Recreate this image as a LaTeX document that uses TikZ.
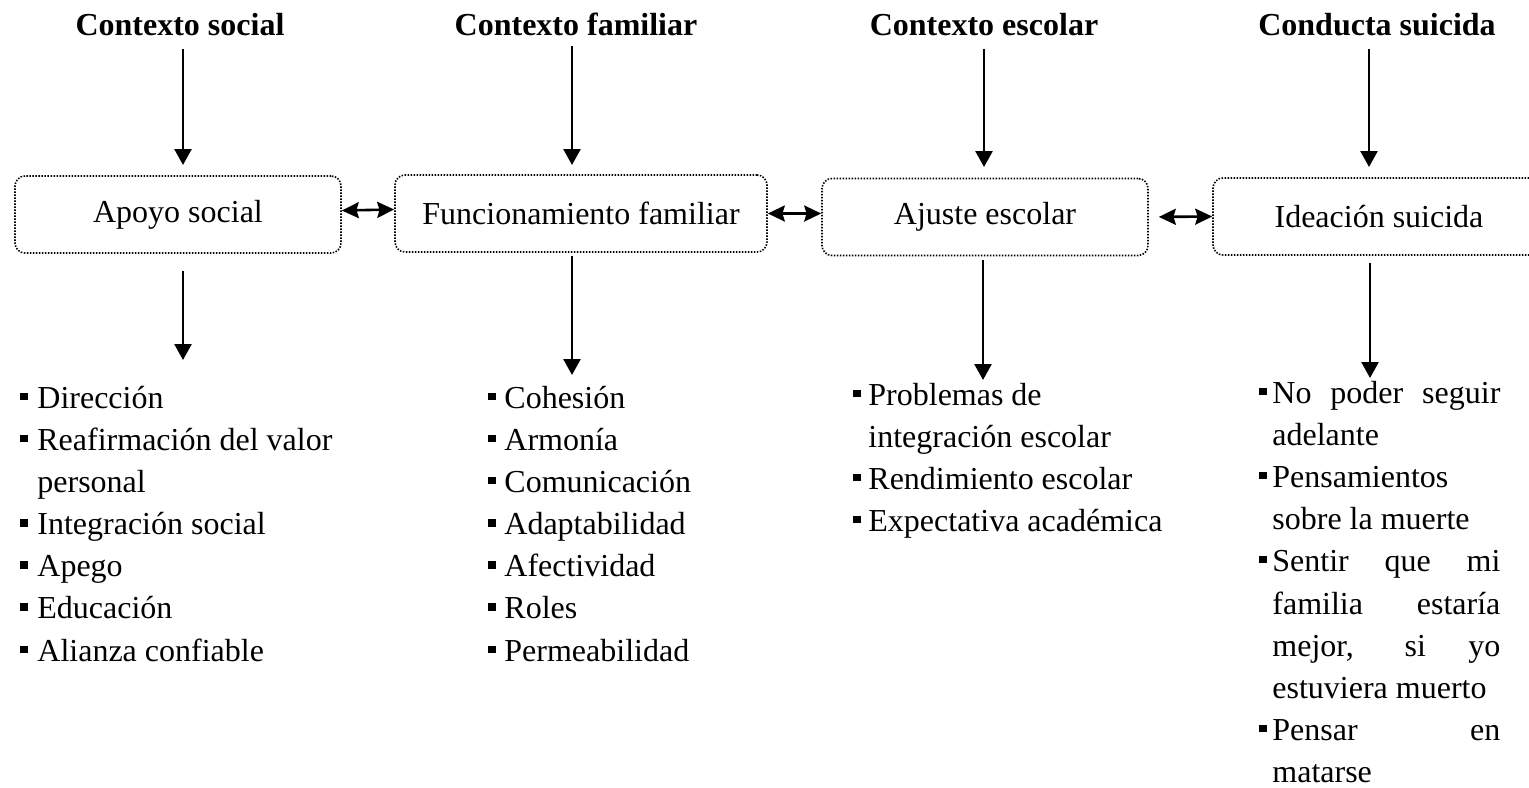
\documentclass[tikz,border=0pt]{standalone}
\usepackage{fontspec}
\setmainfont{Liberation Serif}
\usetikzlibrary{arrows.meta}
\newcommand\sqbul{\rule[4pt]{3.7pt}{3.7pt}}
\begin{document}
\begin{tikzpicture}[x=0.5pt,y=-0.5pt,
  font=\fontsize{16pt}{19pt}\selectfont,
  box/.style={draw, dash pattern=on 0.75pt off 0.75pt, line width=0.8pt, rounded corners=5pt,
    minimum height=38.5pt, inner sep=0pt},
  ttl/.style={font=\fontsize{16pt}{19pt}\selectfont\bfseries, anchor=base, inner sep=0pt},
  arr/.style={line width=1.3pt, -{Triangle[length=8pt,width=8.5pt]}},
  dbl/.style={line width=1.3pt, {Stealth[length=8.5pt,width=8pt,inset=1.2pt]}-{Stealth[length=8.5pt,width=8pt,inset=1.2pt]}},
  itm/.style={anchor=base west, inner sep=0pt}]
\useasboundingbox (0,0) rectangle (1529,787);
\clip (0,0) rectangle (1529,787);

% titles
\node[ttl] (t1) at (180,35) {Contexto social};
\node[ttl] (t2) at (576,35) {Contexto familiar};
\node[ttl] (t3) at (984,35) {Contexto escolar};
\node[ttl] (t4) at (1377,35) {Conducta suicida};

% boxes
\node[box, minimum width=163pt] (apoyo) at (178,214.5) {Apoyo social};
\node[box, minimum width=186pt] (func) at (581,213.5) {Funcionamiento familiar};
\node[box, minimum width=163pt] (ajuste) at (985,217) {Ajuste escolar};
\node[box, minimum width=166pt] (ideac) at (1379,216.5) {Ideación suicida};

% arrow tips (free ends)
\coordinate (a1) at (183,165);
\coordinate (a2) at (572,165);
\coordinate (a3) at (984,167);
\coordinate (a4) at (1369,167);
\coordinate (b1) at (183,360);
\coordinate (b2) at (572,375);
\coordinate (b3) at (983,380);
\coordinate (b4) at (1370,378);

\draw[arr, shorten <=6.5pt] (t1.south -| a1) -- (a1);
\draw[arr, shorten <=5pt] (t2.south -| a2) -- (a2);
\draw[arr, shorten <=6.5pt] (t3.south -| a3) -- (a3);
\draw[arr, shorten <=6.5pt] (t4.south -| a4) -- (a4);

\draw[arr, shorten <=8.5pt] (apoyo.south -| b1) -- (b1);
\draw[arr, shorten <=1.5pt] (func.south -| b2) -- (b2);
\draw[arr, shorten <=2pt] (ajuste.south -| b3) -- (b3);
\draw[arr, shorten <=3.5pt] (ideac.south -| b4) -- (b4);

\draw[dbl] ([yshift=2pt]apoyo.east) -- ([yshift=2pt]func.west);
\draw[dbl] (func.east) -- (func.east -| ajuste.west);
\draw[dbl, shorten <=5pt] (ajuste.east) -- (ideac.west);

% column 1
\node[itm] (l1a) at (20,408) {\makebox[8.5pt][l]{\sqbul}Dirección};
\node[itm] (l1b) at (20,450.2) {\makebox[8.5pt][l]{\sqbul}Reafirmación del valor};
\node[itm] (l1c) at (37,492.3) {personal};
\node[itm] (l1d) at (20,534.5) {\makebox[8.5pt][l]{\sqbul}Integración social};
\node[itm] (l1e) at (20,576.7) {\makebox[8.5pt][l]{\sqbul}Apego};
\node[itm] (l1f) at (20,618.8) {\makebox[8.5pt][l]{\sqbul}Educación};
\node[itm] (l1g) at (20,661) {\makebox[8.5pt][l]{\sqbul}Alianza confiable};

% column 2
\node[itm] (l2a) at (488,408) {\makebox[8pt][l]{\sqbul}Cohesión};
\node[itm] (l2b) at (488,450.2) {\makebox[8pt][l]{\sqbul}Armonía};
\node[itm] (l2c) at (488,492.3) {\makebox[8pt][l]{\sqbul}Comunicación};
\node[itm] (l2d) at (488,534.5) {\makebox[8pt][l]{\sqbul}Adaptabilidad};
\node[itm] (l2e) at (488,576.7) {\makebox[8pt][l]{\sqbul}Afectividad};
\node[itm] (l2f) at (488,618.8) {\makebox[8pt][l]{\sqbul}Roles};
\node[itm] (l2g) at (488,661) {\makebox[8pt][l]{\sqbul}Permeabilidad};

% column 3
\node[itm] (l3a) at (853,405) {\makebox[7.5pt][l]{\sqbul}Problemas de};
\node[itm] (l3b) at (868,447) {integración escolar};
\node[itm] (l3c) at (853,489) {\makebox[7.5pt][l]{\sqbul}Rendimiento escolar};
\node[itm] (l3d) at (853,531) {\makebox[7.5pt][l]{\sqbul}Expectativa académica};

% column 4
\node[itm] (l4a) at (1259,403) {\makebox[6.5pt][l]{\sqbul}\makebox[114pt][s]{No poder seguir}};
\node[itm] (l4b) at (1272,445) {adelante};
\node[itm] (l4c) at (1259,487) {\makebox[6.5pt][l]{\sqbul}Pensamientos};
\node[itm] (l4d) at (1272,529) {sobre la muerte};
\node[itm] (l4e) at (1259,571) {\makebox[6.5pt][l]{\sqbul}\makebox[114pt][s]{Sentir que mi}};
\node[itm] (l4f) at (1272,614) {\makebox[114pt][s]{familia estaría}};
\node[itm] (l4g) at (1272,656) {\makebox[114pt][s]{mejor, si yo}};
\node[itm] (l4h) at (1272,698) {estuviera muerto};
\node[itm] (l4i) at (1259,740) {\makebox[6.5pt][l]{\sqbul}\makebox[114pt][s]{Pensar en}};
\node[itm] (l4j) at (1272,782) {matarse};
\end{tikzpicture}
\end{document}
